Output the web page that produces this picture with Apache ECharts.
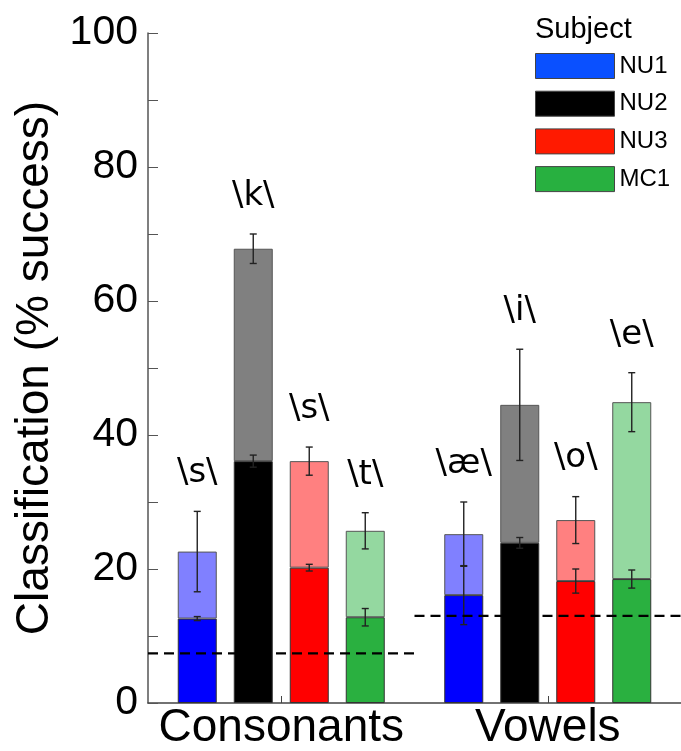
<!DOCTYPE html>
<html><head><meta charset="utf-8">
<script src="https://cdn.jsdelivr.net/npm/echarts@6/dist/echarts.min.js"></script>
<style>html,body{margin:0;padding:0;background:#fff}#c{width:681px;height:751px}</style>
</head><body><div id="c"></div>
<script>
// ---- data ----
const categories = ['Consonants', 'Vowels'];
const subjects = ['NU1', 'NU2', 'NU3', 'MC1'];
const yTicks = [0, 20, 40, 60, 80, 100];

const nu1Base = [12.6, 16.1];
const nu1BaseErr = [0.3, 4.4];
const nu1Total = [22.6, 25.2];
const nu1TotalErr = [6.0, 4.8];
const nu1Labels = ['\\s\\', '\\æ\\'];

const nu2Base = [36.1, 23.9];
const nu2BaseErr = [0.9, 0.8];
const nu2Total = [67.8, 44.5];
const nu2TotalErr = [2.2, 8.3];
const nu2Labels = ['\\k\\', '\\i\\'];

const nu3Base = [20.2, 18.2];
const nu3BaseErr = [0.5, 1.8];
const nu3Total = [36.1, 27.3];
const nu3TotalErr = [2.1, 3.5];
const nu3Labels = ['\\s\\', '\\o\\'];

const mc1Base = [12.8, 18.5];
const mc1BaseErr = [1.3, 1.35];
const mc1Total = [25.7, 44.9];
const mc1TotalErr = [2.7, 4.4];
const mc1Labels = ['\\t\\', '\\e\\'];

const chanceLevel = [7.4, 13.0];

// ---- style ----
const darkColors = ['#0000ff', '#000000', '#ff0000', '#2ab040'];
const lightColors = ['#8080ff', '#808080', '#ff8080', '#94d8a0'];
const legendColors = ['#0a50ff', '#000000', '#ff1a00', '#28b040'];
const BAR_W = 39, GAP = 17;
const FONT = 'Liberation Sans, Arial, Helvetica, sans-serif';

const groups = [
  [nu1Base, nu1BaseErr, nu1Total, nu1TotalErr, nu1Labels],
  [nu2Base, nu2BaseErr, nu2Total, nu2TotalErr, nu2Labels],
  [nu3Base, nu3BaseErr, nu3Total, nu3TotalErr, nu3Labels],
  [mc1Base, mc1BaseErr, mc1Total, mc1TotalErr, mc1Labels]
];

const series = [];
groups.forEach((g, k) => {
  const [base, baseErr, total, totalErr] = g;
  series.push({
    name: subjects[k], type: 'bar', stack: subjects[k], barWidth: BAR_W, barGap: (GAP / BAR_W * 100) + '%',
    itemStyle: { color: darkColors[k], borderColor: '#333', borderWidth: 1 },
    data: base, z: 2
  });
  series.push({
    name: subjects[k] + ' total', type: 'bar', stack: subjects[k], barWidth: BAR_W, barGap: (GAP / BAR_W * 100) + '%',
    itemStyle: { color: lightColors[k], borderColor: '#555', borderWidth: 1 },
    data: total.map((t, i) => t - base[i]), z: 2
  });
});

groups.forEach((g, k) => {
  const [base, baseErr, total, totalErr, labels] = g;
  series.push({
    type: 'custom', name: subjects[k] + ' err', z: 10, silent: true,
    data: categories.map((c, i) => [i, base[i], baseErr[i], total[i], totalErr[i]]),
    encode: { x: 0, y: 3 },
    renderItem: function (params, api) {
      const ci = api.value(0);
      const c = api.coord([ci, 0]);
      const x = c[0] + (k - 1.5) * (BAR_W + GAP);
      const els = [];
      const cap = 3.5;
      const addErr = (v, e) => {
        const yt = api.coord([ci, v + e])[1], yb = api.coord([ci, v - e])[1];
        const st = { stroke: '#222', lineWidth: 1.4 };
        els.push({ type: 'line', shape: { x1: x, y1: yt, x2: x, y2: yb }, style: st });
        els.push({ type: 'line', shape: { x1: x - cap, y1: yt, x2: x + cap, y2: yt }, style: st });
        els.push({ type: 'line', shape: { x1: x - cap, y1: yb, x2: x + cap, y2: yb }, style: st });
      };
      addErr(api.value(1), api.value(2));
      addErr(api.value(3), api.value(4));
      const yTop = api.coord([ci, api.value(3) + api.value(4)])[1];
      els.push({ type: 'text', style: { text: labels[ci], x: x, y: yTop - 38, textAlign: 'center', textVerticalAlign: 'middle', fill: '#000', font: '34px "DejaVu Sans", sans-serif' } });
      return { type: 'group', children: els };
    }
  });
});

series.push({
  type: 'custom', name: 'chance', z: 12, silent: true,
  data: categories.map((c, i) => [i, chanceLevel[i]]),
  encode: { x: 0, y: 1 },
  renderItem: function (params, api) {
    const ci = api.value(0);
    const p = api.coord([ci, api.value(1)]);
    const w = api.size([1, 0])[0];
    return { type: 'line', shape: { x1: p[0] - w / 2, y1: p[1], x2: p[0] + w / 2, y2: p[1] },
      style: { stroke: '#000', lineWidth: 2.2, lineDash: [10, 6] } };
  }
});

const chart = echarts.init(document.getElementById('c'), null, { renderer: 'canvas' });
chart.setOption({
  animation: false,
  backgroundColor: '#fff',
  title: { text: 'Subject', left: 535, top: 15, padding: 0,
    textStyle: { fontSize: 29, fontWeight: 'normal', fontFamily: FONT, color: '#000' } },
  legend: {
    orient: 'vertical', left: 535, top: 53, padding: 0, itemWidth: 79, itemHeight: 25, itemGap: 11.7,
    itemTextGap: 8, icon: 'rect', selectedMode: false,
    textStyle: { fontSize: 24, fontFamily: FONT, color: '#000' },
    data: subjects.map((s, k) => ({ name: s, itemStyle: { color: legendColors[k], borderColor: '#444', borderWidth: 1 } }))
  },
  grid: { left: 148, right: -7, top: 33, bottom: 48 },
  xAxis: {
    type: 'category', data: categories,
    axisLine: { lineStyle: { color: '#444', width: 1.5 } },
    axisTick: { show: true, alignWithLabel: true, inside: true, length: 7, lineStyle: { color: '#444' } },
    axisLabel: { interval: 0, hideOverlap: false, fontSize: 46, fontFamily: FONT, color: '#000', margin: 2 }
  },
  yAxis: {
    type: 'value', min: 0, max: 100, interval: 10,
    name: 'Classification (% success)', nameLocation: 'middle', nameGap: 85, nameRotate: 90,
    nameTextStyle: { fontSize: 46, fontFamily: FONT, color: '#000' },
    splitLine: { show: false },
    axisLine: { show: true, lineStyle: { color: '#555', width: 1.5 } },
    axisTick: { show: true, inside: true, length: 10, lineStyle: { color: '#555' } },
    axisLabel: { fontSize: 41, fontFamily: FONT, color: '#000', margin: 10,
      formatter: v => (yTicks.indexOf(v) >= 0 ? String(v) : '') }
  },
  series: series
});
</script></body></html>
